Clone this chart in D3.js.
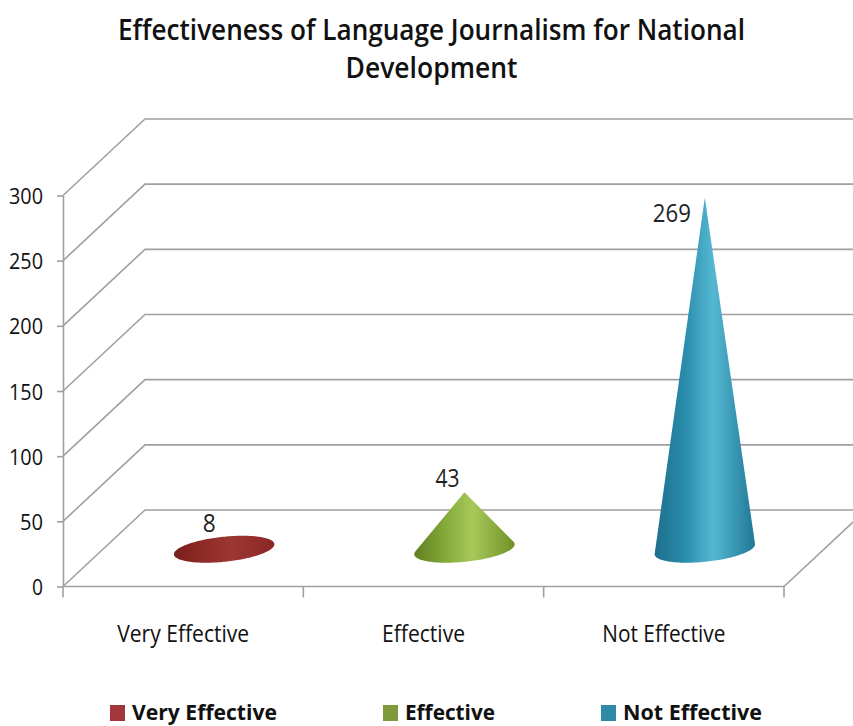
<!DOCTYPE html>
<html><head><meta charset="utf-8">
<script src="https://cdn.jsdelivr.net/npm/d3@7"></script>
<style>body{margin:0;background:#fff}text{font-family:"Open Sans",sans-serif}</style>
</head><body>
<svg id="chart" width="853" height="726"></svg>
<script>
// ---- data ----
const titleLines = ["Effectiveness of Language Journalism for National", "Development"];
const categories = ["Very Effective", "Effective", "Not Effective"];
const values = [8, 43, 269];
const yTicks = [0, 50, 100, 150, 200, 250, 300];

// ---- layout / style ----
const legendColors = ["#a3363a", "#7f9a3a", "#2f8aa6"];
const coneStops = [
  ["#7a1f1c", "#8e2b28", "#9c3733", "#8a2825"],
  ["#5f7f1f", "#84a83a", "#a7c95a", "#6f9228"],
  ["#1d6f8c", "#2a8cac", "#55b8d2", "#207896"]
];
const labelOffsets = [[-15, -6], [-17, -5], [-33, 24]];
const textWidth = {
  title0: 627, title1: 172,
  cat: {"Very Effective": 132, "Effective": 83, "Not Effective": 123},
  leg: {"Very Effective": 145, "Effective": 90, "Not Effective": 139},
  val: {"8": 13, "43": 24, "269": 38},
  tick: {"0": 11, "50": 23, "100": 34, "150": 34, "200": 34, "250": 34, "300": 34}
};
const depth = {dx: 82, dy: -76.5};

const svg = d3.select("#chart");
const x = d3.scaleBand().domain(categories).range([63, 784]).padding(0);
const y = d3.scaleLinear().domain([0, 300]).range([586.5, 195.5]);
const proj = (px, v, d) => [px + d * depth.dx, y(v) + d * depth.dy];
const gridColor = "#a0a0a0";

// title
titleLines.forEach((t, i) => {
  svg.append("text").attr("x", 431.5).attr("y", i === 0 ? 40 : 78)
    .attr("text-anchor", "middle").attr("font-size", 29).attr("font-weight", 600)
    .attr("fill", "#111")
    .attr("textLength", textWidth["title" + i]).attr("lengthAdjust", "spacingAndGlyphs")
    .text(t);
});

// gridlines: front-left -> back wall -> across
const grid = svg.append("g").attr("fill", "none").attr("stroke", gridColor).attr("stroke-width", 1.6);
yTicks.forEach(t => {
  const a = proj(x.range()[0], t, 0), b = proj(x.range()[0], t, 1);
  const c = proj(x.range()[1], t, 1);
  grid.append("path").attr("d", d3.line()([a, b, [c[0] + 20, b[1]]]));
});
// floor front edge and right diagonal
{
  const a = proj(x.range()[0], 0, 0), b = proj(x.range()[1], 0, 0), c = proj(x.range()[1], 0, 1);
  grid.append("path").attr("d", d3.line()([a, b, c]));
}
// bottom category ticks
const bounds = categories.map(c => x(c)).concat([x.range()[1]]);
bounds.forEach(bx => {
  grid.append("line").attr("x1", bx).attr("x2", bx).attr("y1", y(0)).attr("y2", y(0) + 11);
});

// left axis
const yAxis = svg.append("g").attr("transform", `translate(${x.range()[0]},0)`)
  .call(d3.axisLeft(y).tickValues(yTicks).tickSize(6).tickSizeOuter(0).tickPadding(14));
yAxis.select(".domain").attr("stroke", gridColor).attr("stroke-width", 1.6);
yAxis.selectAll(".tick line").attr("stroke", gridColor).attr("stroke-width", 1.6);
yAxis.selectAll(".tick text").attr("font-size", 22).attr("fill", "#111")
  .attr("font-family", '"Open Sans",sans-serif').attr("dy", null).attr("y", 8)
  .attr("textLength", d => textWidth.tick[d]).attr("lengthAdjust", "spacingAndGlyphs");

// cones
const defs = svg.append("defs");
categories.forEach((c, i) => {
  const g = defs.append("linearGradient").attr("id", "cg" + i)
    .attr("x1", "0%").attr("x2", "100%").attr("y1", "0%").attr("y2", "0%");
  const offs = [0, 0.3, 0.58, 1];
  coneStops[i].forEach((col, k) => g.append("stop").attr("offset", offs[k]).attr("stop-color", col));
});

const coneG = svg.append("g");
categories.forEach((c, i) => {
  const cx = x(c) + x.bandwidth() / 2;
  const base = proj(cx, 0, 0.5);
  const apex = proj(cx, values[i], 0.5);
  const rx = x.bandwidth() * 0.21, ry = 12.5, rot = -6 * Math.PI / 180;
  const pts = d3.range(0, 360, 2).map(a => {
    const t = a * Math.PI / 180, ex = rx * Math.cos(t), ey = ry * Math.sin(t);
    return [base[0] + ex * Math.cos(rot) - ey * Math.sin(rot), base[1] + 1 + ex * Math.sin(rot) + ey * Math.cos(rot)];
  });
  pts.push(apex);
  const hull = d3.polygonHull(pts);
  coneG.append("path").attr("d", "M" + hull.join("L") + "Z").attr("fill", `url(#cg${i})`);
  // value label
  svg.append("text").attr("x", apex[0] + labelOffsets[i][0]).attr("y", apex[1] + labelOffsets[i][1])
    .attr("text-anchor", "middle").attr("font-size", 25).attr("fill", "#222")
    .attr("textLength", textWidth.val[values[i]]).attr("lengthAdjust", "spacingAndGlyphs")
    .text(values[i]);
});

// category labels
categories.forEach(c => {
  svg.append("text").attr("x", x(c) + x.bandwidth() / 2).attr("y", 642)
    .attr("text-anchor", "middle").attr("font-size", 23).attr("fill", "#111")
    .attr("textLength", textWidth.cat[c]).attr("lengthAdjust", "spacingAndGlyphs").text(c);
});

// legend
let lx = 110;
categories.forEach((c, i) => {
  svg.append("rect").attr("x", lx).attr("y", 705).attr("width", 15).attr("height", 16).attr("fill", legendColors[i]);
  svg.append("text").attr("x", lx + 22).attr("y", 720).attr("font-size", 22).attr("font-weight", 700)
    .attr("fill", "#111").attr("textLength", textWidth.leg[c]).attr("lengthAdjust", "spacingAndGlyphs").text(c);
  lx += 22 + textWidth.leg[c] + 106;
});
</script>
</body></html>
